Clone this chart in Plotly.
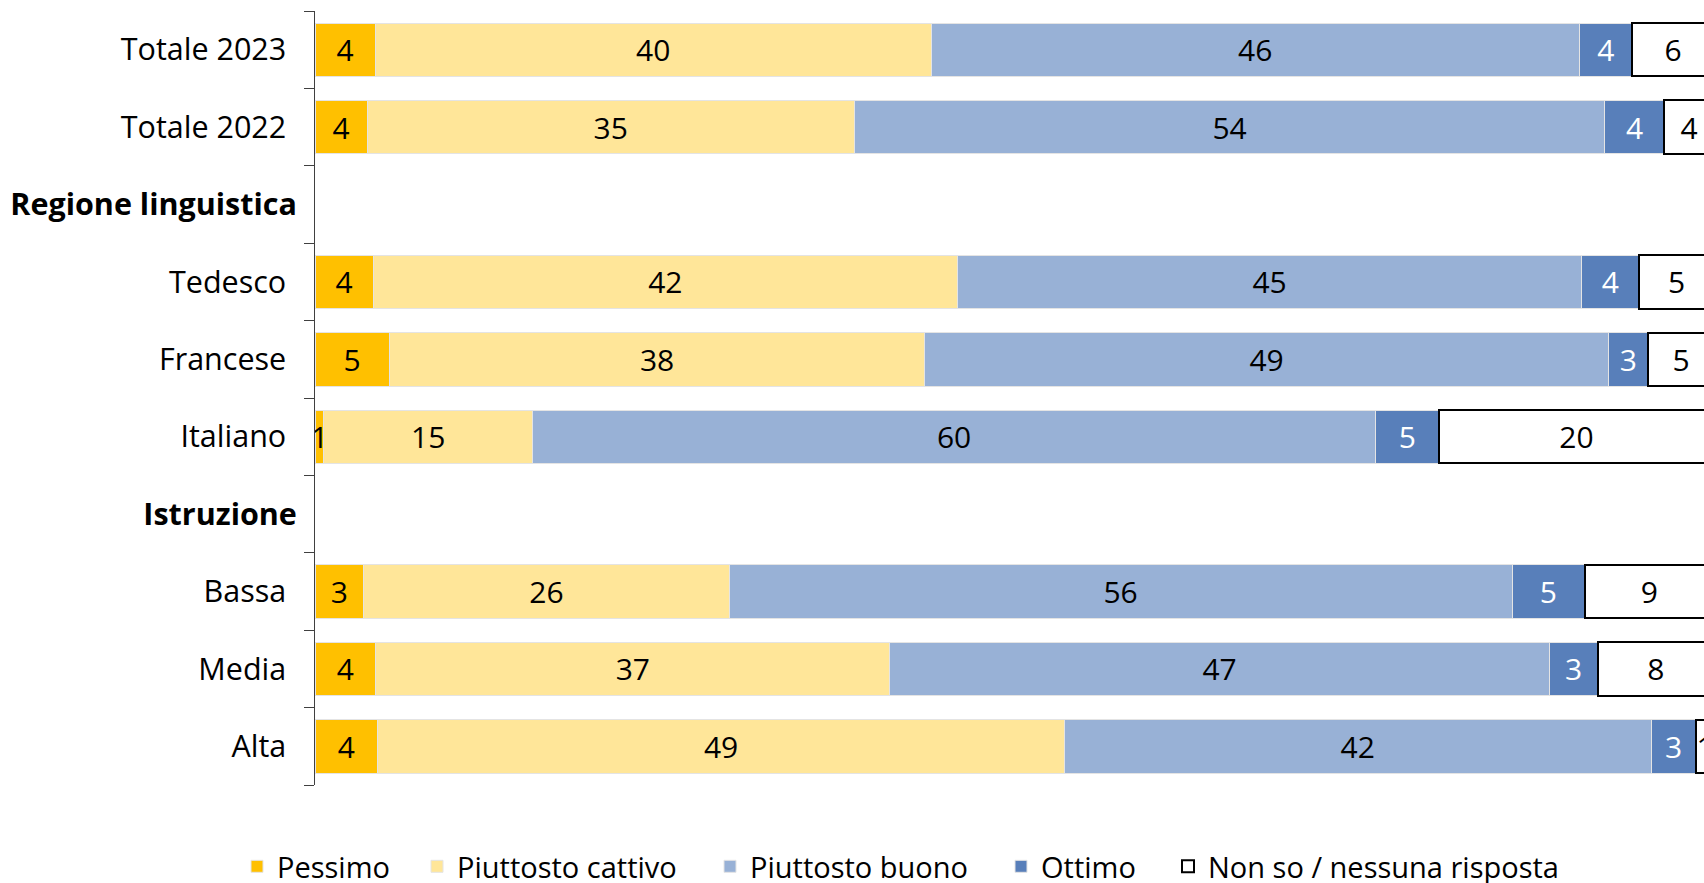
import plotly.graph_objects as go

# ---- data (percent) ----
categories = ["Totale 2023", "Totale 2022", "Regione linguistica", "Tedesco",
              "Francese", "Italiano", "Istruzione", "Bassa", "Media", "Alta"]
header_rows = ["Regione linguistica", "Istruzione"]
bar_rows = ["Totale 2023", "Totale 2022", "Tedesco", "Francese", "Italiano",
            "Bassa", "Media", "Alta"]

pessimo = [4.29, 3.74, 4.17, 5.31, 0.64, 3.49, 4.34, 4.49]
piuttosto_cattivo = [39.77, 34.80, 41.75, 38.28, 14.90, 26.11, 36.76, 49.08]
piuttosto_buono = [46.30, 53.67, 44.63, 48.86, 60.29, 55.97, 47.13, 41.94]
ottimo = [3.81, 4.24, 4.10, 2.86, 4.52, 5.18, 3.46, 3.22]
non_so = [5.83, 3.55, 5.35, 4.69, 19.65, 9.25, 8.31, 1.27]

series_names = ["Pessimo", "Piuttosto cattivo", "Piuttosto buono", "Ottimo",
                "Non so / nessuna risposta"]
series_values = [pessimo, piuttosto_cattivo, piuttosto_buono, ottimo, non_so]

# ---- styles ----
FONT = "Open Sans"
fills = ["#FFC000", "#FFE699", "#98B1D6", "#587FBA", "#FFFFFF"]
lines = ["#E4E4E4", "#E4E4E4", "#E4E4E4", "#E4E4E4", "#000000"]
line_w = [1, 1, 1, 1, 2]
text_col = ["#000000", "#000000", "#000000", "#FFFFFF", "#000000"]
legend_w = [135, 248, 246, 122, 0]

fig = go.Figure()
for name, vals, fc, lc, lw, tc, lgw in zip(series_names, series_values, fills,
                                           lines, line_w, text_col, legend_w):
    kw = dict(legendwidth=lgw) if lgw else {}
    fig.add_trace(go.Bar(
        name=name, y=bar_rows, x=vals, orientation="h",
        marker=dict(color=fc, line=dict(color=lc, width=lw)),
        texttemplate="%{x:.0f}", textposition="inside",
        insidetextanchor="middle", textangle=0, constraintext="none",
        insidetextfont=dict(family=FONT, size=30, color=tc),
        hoverinfo="skip", **kw))

pad = "\u2005\u200a"
ticktext = [("<b>%s</b>" % c) if c in header_rows else (c + pad) for c in categories]

PLOT_L, PLOT_W = 315, 1389
fig.update_layout(
    barmode="stack", bargap=0.31,
    width=1704, height=883,
    margin=dict(l=PLOT_L, r=0, t=10.7, b=98, autoexpand=False),
    paper_bgcolor="white", plot_bgcolor="white",
    font=dict(family=FONT, size=30.5, color="#000000"),
    showlegend=True,
    legend=dict(orientation="h", x=(237 - PLOT_L) / PLOT_W, xanchor="left",
                y=-0.0723, yanchor="top", font=dict(family=FONT, size=29),
                bgcolor="rgba(0,0,0,0)", traceorder="normal"),
    xaxis=dict(range=[0, 99.29], visible=False, showgrid=False, zeroline=False),
    yaxis=dict(type="category", categoryorder="array", categoryarray=categories,
               range=[len(categories) - 0.5, -0.5],
               tickmode="array", tickvals=categories, ticktext=ticktext,
               tickson="boundaries", ticks="outside", ticklen=10,
               tickcolor="#404040", tickwidth=1, ticklabelstandoff=11,
               showline=True, linecolor="#404040", linewidth=1,
               showgrid=False, zeroline=False,
               tickfont=dict(family=FONT, size=30.5, color="#000000")),
)

# place the figure at the window's top-left corner, without scrollbars
post = ("document.body.style.margin='0';"
        "document.documentElement.style.overflow='hidden';"
        "document.body.style.overflow='hidden';")
fig.write_html("out.html", post_script=post,
               config={"displayModeBar": False})
